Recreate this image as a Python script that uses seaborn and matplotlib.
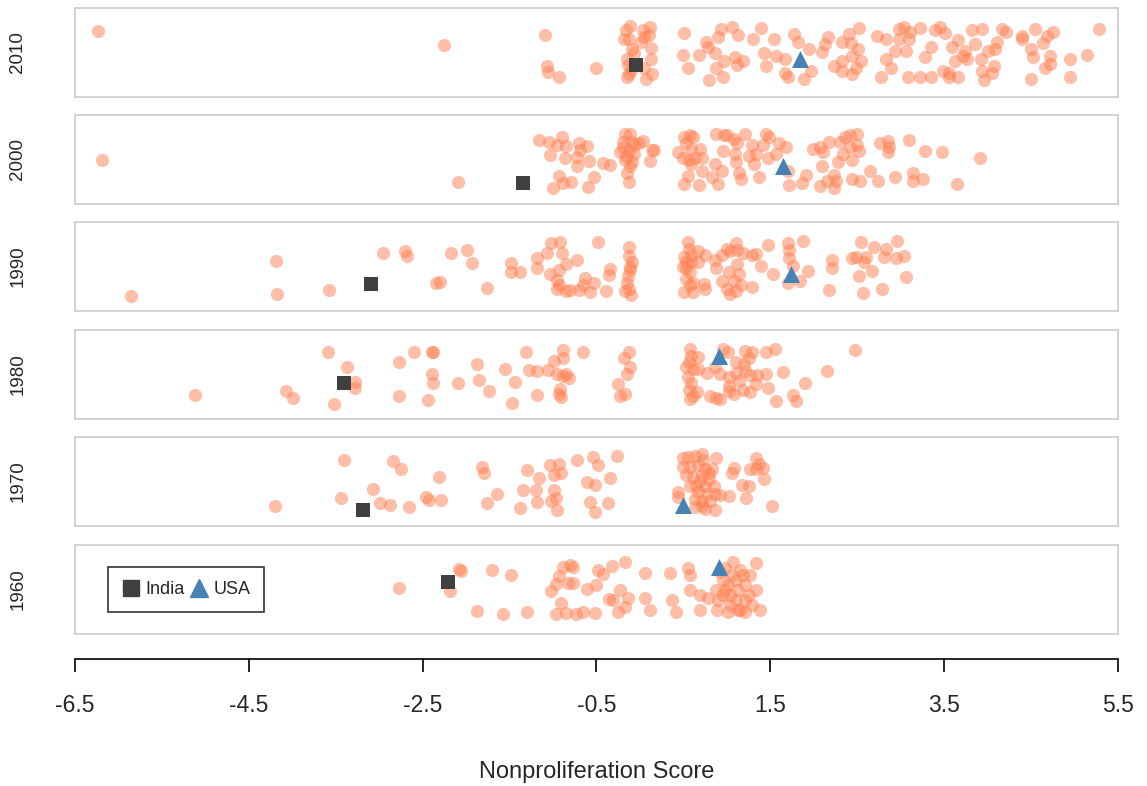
import pandas as pd
import matplotlib
matplotlib.use("Agg")
import matplotlib.pyplot as plt
import seaborn as sns
from matplotlib.lines import Line2D

decades = ["2010", "2000", "1990", "1980", "1970", "1960"]
tick_values = [-6.5, -4.5, -2.5, -0.5, 1.5, 3.5, 5.5]
tick_labels = ["-6.5", "-4.5", "-2.5", "-0.5", "1.5", "3.5", "5.5"]

# (score, vertical jitter inside the panel)
pts_2010 = [
    (-6.23, .74), (-2.25, .58), (-1.09, .70), (-1.07, .35), (-1.06, .28), (-0.93, .22), (-0.51, .33),
    (-0.12, .80), (-0.16, .75), (0.03, .75), (0.12, .79), (-0.13, .65), (-0.18, .65), (0.05, .67),
    (-0.09, .54), (0.13, .55), (-0.15, .43), (0.13, .43), (0.05, .33), (-0.13, .26), (0.14, .26),
    (-0.15, .22), (0.07, .20), (-0.07, .50), (0.01, .62), (-0.14, .36), (0.10, .70), (-0.10, .30),
    (0.51, .72), (0.49, .47), (0.55, .33), (0.68, .47), (0.79, .19), (0.76, .62), (0.78, .56),
    (0.86, .50), (0.90, .67), (0.93, .76), (1.06, .79), (1.13, .70), (0.88, .33), (0.96, .22),
    (0.97, .41), (1.09, .45), (1.12, .36), (1.19, .40), (1.30, .65), (1.39, .77), (1.45, .35),
    (1.43, .50), (1.54, .65), (1.56, .46), (1.67, .43), (1.67, .27), (1.70, .22), (1.77, .71),
    (1.82, .62), (1.89, .20), (1.95, .54), (1.97, .29), (2.09, .51), (2.13, .60), (2.16, .67),
    (2.23, .35), (2.33, .29), (2.32, .62), (2.41, .71), (2.43, .61), (2.44, .46), (2.44, .26),
    (2.51, .54), (2.52, .78), (2.54, .41), (2.49, .33), (2.33, .40),
    (2.73, .69), (2.77, .22), (2.83, .65), (2.83, .43), (2.89, .33), (2.93, .52), (2.98, .76),
    (2.98, .65), (3.04, .79), (3.06, .52), (3.10, .65), (3.11, .73), (3.08, .22), (3.22, .78),
    (3.22, .22), (3.28, .45), (3.35, .56), (3.35, .22), (3.39, .75), (3.45, .79), (3.49, .29),
    (3.51, .72), (3.55, .27), (3.55, .22), (3.59, .56), (3.63, .41), (3.66, .22), (3.66, .64),
    (3.72, .46), (3.76, .43), (3.74, .52), (3.82, .75), (3.85, .60), (3.94, .76), (3.92, .43),
    (3.94, .29), (3.96, .19), (4.00, .52), (4.05, .27), (4.07, .35), (4.09, .54), (4.11, .62),
    (4.17, .76), (4.21, .73), (4.40, .69), (4.40, .65), (4.50, .54), (4.54, .76), (4.52, .45),
    (4.50, .20), (4.64, .61), (4.66, .33), (4.68, .69), (4.72, .46), (4.72, .37), (4.75, .73),
    (4.95, .43), (4.95, .22), (5.14, .47), (5.28, .76),
]

pts_2000 = [
    (-6.19, .50), (-2.09, .25), (-1.16, .72), (-1.05, .70), (-0.90, .75), (-0.96, .66), (-0.85, .65),
    (-0.70, .68), (-0.61, .65), (-1.04, .55), (-0.86, .52), (-0.73, .53), (-0.59, .48), (-0.73, .43),
    (-0.42, .46), (-0.93, .32), (-1.00, .18), (-0.89, .24), (-0.79, .25), (-0.60, .19), (-0.53, .30),
    (-0.69, .61), (-0.34, .44),
    (-0.17, .79), (-0.11, .79), (-0.19, .70), (-0.09, .70), (-0.23, .58), (-0.13, .60), (-0.07, .56),
    (-0.17, .49), (-0.09, .47), (-0.15, .35), (-0.11, .43), (-0.13, .25), (-0.19, .64), (-0.07, .66),
    (-0.16, .54), (0.03, .71), (-0.01, .68), (0.14, .61), (0.11, .48), (0.16, .61),
    (0.44, .58), (0.49, .52), (0.51, .75), (0.57, .78), (0.61, .75), (0.53, .68), (0.59, .62),
    (0.56, .49), (0.63, .52), (0.69, .62), (0.71, .52), (0.59, .45), (0.71, .37), (0.55, .32),
    (0.51, .22), (0.68, .21), (0.83, .30), (0.86, .45), (0.88, .79), (0.90, .22), (0.96, .60),
    (0.94, .37), (0.97, .77), (1.00, .78), (1.08, .73), (1.09, .56), (1.12, .68), (1.10, .47),
    (1.14, .35), (1.16, .28), (1.21, .79), (1.25, .54), (1.29, .66), (1.31, .45), (1.33, .56),
    (1.37, .30), (1.41, .66), (1.45, .79), (1.49, .75), (1.47, .52), (1.56, .56), (1.60, .68),
    (1.68, .64), (1.70, .37), (1.72, .21), (1.86, .24), (1.91, .33), (1.99, .62), (2.07, .64),
    (2.09, .43), (2.07, .20), (2.11, .58), (2.17, .70), (2.15, .26), (2.23, .18), (2.23, .33),
    (2.26, .26), (2.28, .47), (2.30, .70), (2.34, .56), (2.36, .75), (2.42, .77), (2.42, .64),
    (2.44, .49), (2.44, .28), (2.50, .79), (2.50, .66), (2.52, .60), (2.53, .26), (2.65, .37),
    (2.74, .26), (2.76, .68), (2.85, .71), (2.85, .58), (2.87, .64), (2.93, .30), (3.10, .72),
    (3.14, .35), (3.14, .26), (3.26, .28), (3.28, .60), (3.47, .58), (3.65, .23), (3.91, .52),
]

pts_1990 = [
    (-5.85, .17), (-4.19, .56), (-4.18, .19), (-3.58, .24), (-2.96, .65), (-2.70, .67), (-2.68, .62),
    (-2.35, .32), (-2.30, .33), (-2.17, .65), (-1.99, .69), (-1.93, .54), (-1.76, .26), (-1.48, .54),
    (-1.48, .44), (-1.38, .44), (-1.18, .60), (-1.18, .48), (-1.07, .65), (-1.02, .76), (-0.92, .77),
    (-0.90, .65), (-0.85, .53), (-0.73, .57), (-0.93, .46), (-1.03, .42), (-0.96, .35), (-0.93, .29),
    (-0.95, .25), (-0.85, .23), (-0.81, .24), (-0.70, .24), (-0.63, .37), (-0.65, .29), (-0.58, .21),
    (-0.53, .31), (-0.48, .77), (-0.39, .23), (-0.36, .40), (-0.35, .47),
    (-0.13, .72), (-0.13, .62), (-0.09, .55), (-0.12, .46), (-0.14, .39), (-0.15, .32), (-0.13, .25),
    (-0.10, .18), (-0.17, .23), (-0.11, .49),
    (0.55, .77), (0.56, .70), (0.51, .61), (0.59, .55), (0.53, .48), (0.58, .44), (0.53, .36),
    (0.57, .29), (0.51, .21), (0.61, .21), (0.67, .67), (0.67, .55), (0.61, .32), (0.53, .55),
    (0.49, .49), (0.59, .63), (0.75, .63), (0.74, .30), (0.75, .25), (0.86, .57), (0.88, .48),
    (0.94, .63), (1.00, .70), (1.04, .67), (1.10, .76), (1.12, .68), (1.12, .53), (1.14, .42),
    (0.94, .34), (1.00, .25), (1.04, .19), (1.08, .34), (1.10, .23), (1.16, .29), (1.02, .44),
    (1.18, .65), (1.29, .63), (1.33, .64), (1.39, .51), (1.29, .27), (1.47, .74), (1.53, .42),
    (1.70, .76), (1.72, .68), (1.72, .60), (1.76, .51), (1.70, .32), (1.84, .34), (1.88, .79),
    (1.93, .45), (2.21, .57), (2.21, .48), (2.17, .24), (2.44, .59), (2.48, .61), (2.54, .77),
    (2.60, .61), (2.58, .55), (2.52, .39), (2.69, .72), (2.67, .45), (2.57, .20), (2.81, .61),
    (2.83, .70), (2.95, .59), (2.96, .79), (3.04, .62), (3.06, .38), (2.79, .25),
]

pts_1980 = [
    (-5.12, .27), (-4.07, .31), (-3.99, .24), (-3.59, .75), (-3.37, .58), (-3.28, .42), (-3.28, .35),
    (-3.52, .17), (-2.77, .64), (-2.60, .75), (-2.38, .75), (-2.39, .75), (-2.77, .26), (-2.44, .21),
    (-2.39, .51), (-2.38, .40), (-2.09, .41), (-1.87, .62), (-1.85, .44), (-1.74, .31), (-1.55, .56),
    (-1.44, .42), (-1.47, .18), (-1.31, .75), (-1.28, .55), (-1.19, .54), (-1.06, .55), (-0.99, .65),
    (-0.89, .78), (-0.88, .69), (-0.95, .51), (-0.85, .51), (-0.82, .46), (-0.89, .48), (-1.19, .27),
    (-0.92, .34), (-0.91, .25), (-0.65, .75), (-0.93, .28),
    (-0.13, .75), (-0.18, .68), (-0.11, .58), (-0.15, .51), (-0.25, .39), (-0.23, .26), (-0.17, .28),
    (0.58, .79), (0.59, .71), (0.56, .64), (0.61, .56), (0.55, .47), (0.59, .41), (0.56, .33),
    (0.61, .26), (0.58, .22), (0.67, .70), (0.67, .56), (0.66, .30), (0.53, .58), (0.77, .52),
    (0.81, .26), (0.88, .24), (0.92, .22), (0.92, .51), (0.96, .79), (1.01, .75), (0.86, .58),
    (1.02, .37), (1.02, .47), (1.08, .28), (1.10, .64), (1.14, .43), (1.18, .33), (1.21, .76),
    (1.21, .54), (1.25, .68), (1.27, .49), (1.29, .75), (1.27, .30), (1.33, .39), (1.35, .49),
    (1.45, .75), (1.55, .79), (1.45, .51), (1.47, .35), (1.56, .20), (1.64, .53), (1.76, .27),
    (1.80, .20), (1.90, .40), (2.15, .54), (2.47, .78), (1.10, .52), (1.02, .32), (1.20, .62),
]

pts_1970 = [
    (-4.20, .23), (-3.41, .74), (-3.44, .32), (-3.07, .42), (-2.99, .26), (-2.88, .24), (-2.84, .73),
    (-2.75, .64), (-2.66, .21), (-2.46, .33), (-2.43, .29), (-2.31, .55), (-2.29, .29), (-1.82, .66),
    (-1.80, .59), (-1.76, .26), (-1.64, .36), (-1.38, .20), (-1.34, .40), (-1.30, .63), (-1.20, .41),
    (-1.19, .27), (-1.16, .54), (-1.04, .69), (-0.93, .70), (-0.91, .60), (-0.99, .57), (-0.99, .41),
    (-0.97, .32), (-1.02, .28), (-0.96, .18), (-0.73, .74), (-0.54, .77), (-0.48, .69), (-0.61, .50),
    (-0.52, .46), (-0.58, .27), (-0.52, .16), (-0.37, .26), (-0.35, .54), (-0.26, .79),
    (0.49, .76), (0.55, .78), (0.63, .79), (0.71, .81), (0.73, .74), (0.49, .66), (0.57, .66),
    (0.67, .68), (0.75, .64), (0.83, .64), (0.53, .57), (0.61, .55), (0.71, .57), (0.79, .53),
    (0.65, .45), (0.75, .45), (0.85, .45), (0.57, .45), (0.67, .38), (0.77, .36), (0.86, .36),
    (0.63, .30), (0.71, .28), (0.81, .28), (0.63, .21), (0.75, .19), (0.86, .18), (0.69, .51),
    (0.79, .59), (0.71, .22), (0.44, .38), (0.44, .33), (0.88, .76),
    (0.92, .35), (1.02, .34), (1.06, .60), (1.08, .65), (1.17, .46), (1.25, .45), (1.22, .31),
    (1.27, .64), (1.34, .76), (1.34, .64), (1.41, .65), (1.43, .53), (1.52, .22), (1.37, .70),
]

pts_1960 = [
    (-2.77, .52), (-2.18, .48), (-2.08, .73), (-2.06, .71), (-1.70, .72), (-1.48, .66), (-1.88, .26),
    (-1.57, .22), (-1.30, .25), (-0.89, .75), (-0.81, .78), (-0.77, .75), (-0.93, .65), (-0.97, .56),
    (-0.83, .57), (-0.77, .57), (-1.02, .48), (-0.61, .51), (-0.50, .55), (-0.48, .72), (-0.42, .67),
    (-0.91, .35), (-0.97, .22), (-0.85, .24), (-0.74, .22), (-0.66, .25), (-0.52, .24), (-0.36, .39),
    (-0.31, .38), (-0.23, .49), (-0.17, .30), (-0.14, .40), (-0.17, .81), (-0.32, .76), (-0.25, .25),
    (0.06, .69), (0.06, .40), (0.12, .27), (0.35, .69), (0.37, .38), (0.41, .25), (0.55, .74),
    (0.58, .66), (0.58, .49), (0.69, .44), (0.69, .27), (0.87, .49), (0.92, .70), (0.90, .38),
    (0.98, .74), (1.04, .33), (1.10, .61), (1.13, .49), (1.15, .27), (1.21, .55), (1.33, .80),
    (1.29, .33), (1.25, .44), (1.38, .27), (1.01, .25), (0.96, .61), (1.07, .81), (1.18, .66),
    (0.89, .27), (0.78, .40), (0.98, .49), (1.04, .44), (1.10, .38), (1.01, .55), (1.15, .72),
    (1.21, .38), (1.27, .66), (1.33, .49), (1.13, .27), (0.95, .44), (1.06, .66), (1.21, .25),
]

india_score = [-0.05, -1.34, -3.10, -3.41, -3.19, -2.21]
india_jitter = [0.36, 0.24, 0.30, 0.41, 0.18, 0.58]
usa_score = [1.84, 1.64, 1.74, 0.91, 0.49, 0.91]
usa_jitter = [0.43, 0.43, 0.42, 0.71, 0.24, 0.75]

rows = []
for dec, pts in zip(decades, [pts_2010, pts_2000, pts_1990, pts_1980, pts_1970, pts_1960]):
    for s, j in pts:
        rows.append((dec, s, j))
df = pd.DataFrame(rows, columns=["decade", "score", "jitter"])

marks = pd.DataFrame({
    "decade": decades * 2,
    "country": ["India"] * 6 + ["USA"] * 6,
    "score": india_score + usa_score,
    "jitter": india_jitter + usa_jitter,
})

sns.set_theme(style="white")
plt.rcParams["font.family"] = ["Liberation Sans", "DejaVu Sans"]

W, H = 1147, 786
fig = plt.figure(figsize=(W / 100, H / 100), dpi=100)

left_px, right_px = 75, 1118
panel_tops = [8, 115, 222, 330, 437, 545]
panel_h = 89
fl = left_px / W
fw = (right_px - left_px) / W

point_color = "#FF7F50"
india_color = "#404040"
usa_color = "#4682B4"

axes = []
for dec, top in zip(decades, panel_tops):
    ax = fig.add_axes([fl, 1 - (top + panel_h) / H, fw, panel_h / H])
    sub = df[df["decade"] == dec]
    sns.scatterplot(data=sub, x="score", y="jitter", ax=ax, color=point_color,
                    alpha=0.5, s=90, linewidth=0, legend=False)
    m = marks[marks["decade"] == dec]
    sns.scatterplot(data=m[m["country"] == "India"], x="score", y="jitter", ax=ax,
                    color=india_color, marker="s", s=110, linewidth=0, legend=False, zorder=3)
    sns.scatterplot(data=m[m["country"] == "USA"], x="score", y="jitter", ax=ax,
                    color=usa_color, marker="^", s=150, linewidth=0, legend=False, zorder=3)
    ax.set_xlim(-6.5, 5.5)
    ax.set_ylim(0, 1)
    ax.set_xticks([])
    ax.set_yticks([])
    ax.set_xlabel("")
    ax.set_ylabel("")
    for sp in ax.spines.values():
        sp.set_color("#CCCCCC")
        sp.set_linewidth(1.2)
    ax.text(-0.055, 0.5, dec, transform=ax.transAxes, rotation=90,
            ha="center", va="center", fontsize=13.5)
    axes.append(ax)

# legend in the bottom panel
handles = [
    Line2D([], [], marker="s", color=india_color, linestyle="", markersize=11),
    Line2D([], [], marker="^", color=usa_color, linestyle="", markersize=13),
]
leg = axes[-1].legend(handles, ["India", "USA"], loc="center left",
                      bbox_to_anchor=(0.032, 0.5), ncol=2, frameon=True, fancybox=False,
                      fontsize=13, handletextpad=0.3, columnspacing=0.3,
                      handlelength=1.0, borderpad=0.75, borderaxespad=0)
leg.get_frame().set_edgecolor("black")
leg.get_frame().set_linewidth(1.2)

# separate R-style x axis below the panels
axis_y = 659
ax_x = fig.add_axes([fl, 1 - axis_y / H, fw, 0.0001])
ax_x.set_xlim(-6.5, 5.5)
ax_x.set_yticks([])
ax_x.set_xticks(tick_values)
ax_x.set_xticklabels(tick_labels, fontsize=16.5)
for side in ["top", "left", "right"]:
    ax_x.spines[side].set_visible(False)
ax_x.spines["bottom"].set_color("black")
ax_x.spines["bottom"].set_linewidth(1.2)
ax_x.tick_params(axis="x", direction="out", length=9.5, width=1.2, color="black",
                 pad=16, bottom=True)
ax_x.patch.set_alpha(0)

fig.text((left_px + right_px) / 2 / W, 1 - 772 / H, "Nonproliferation Score",
         ha="center", va="center", fontsize=17)

fig.savefig("out.png", dpi=100)
